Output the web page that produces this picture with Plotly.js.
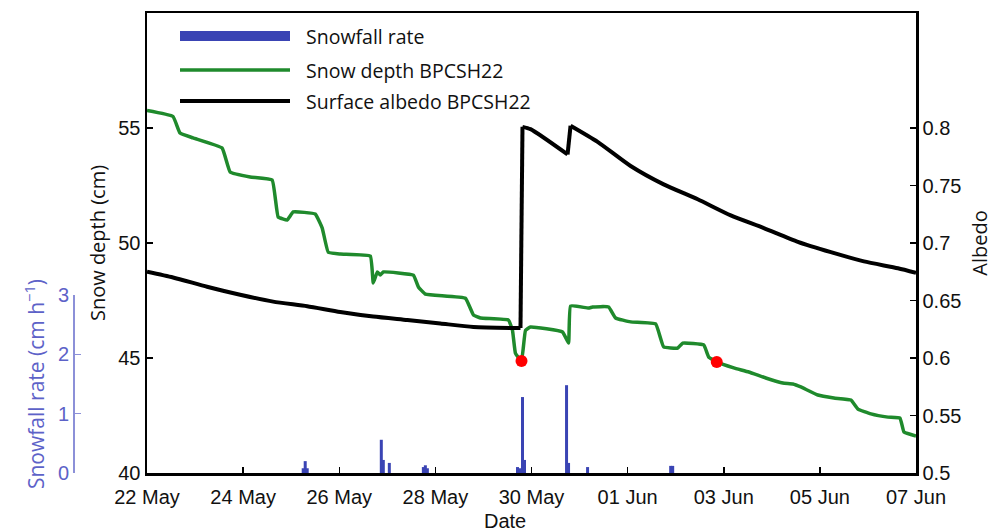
<!DOCTYPE html>
<html><head><meta charset="utf-8">
<script src="https://cdn.plot.ly/plotly-3.0.1.min.js"></script>
<style>body{margin:0;background:#fff}#chart{width:993px;height:531px}</style>
</head><body><div id="chart"></div>
<script>
// Snow depth BPCSH22 (cm)
const depthTime = ["2015-05-22 00:00","2015-05-22 13:00","2015-05-22 16:30","2015-05-22 23:00","2015-05-23 13:30","2015-05-23 17:30","2015-05-24 03:30","2015-05-24 14:30","2015-05-24 17:30","2015-05-24 22:00","2015-05-25 01:00","2015-05-25 12:00","2015-05-25 15:30","2015-05-25 18:30","2015-05-26 00:30","2015-05-26 15:30","2015-05-26 17:00","2015-05-26 19:00","2015-05-26 20:30","2015-05-26 22:00","2015-05-27 13:00","2015-05-27 15:30","2015-05-27 19:00","2015-05-28 15:00","2015-05-28 19:00","2015-05-28 22:30","2015-05-29 12:30","2015-05-29 14:30","2015-05-29 16:00","2015-05-29 19:00","2015-05-29 21:00","2015-05-29 23:30","2015-05-30 15:30","2015-05-30 18:30","2015-05-30 19:30","2015-05-31 04:30","2015-05-31 06:30","2015-05-31 14:30","2015-05-31 18:00","2015-06-01 01:30","2015-06-01 14:00","2015-06-01 18:00","2015-06-02 01:00","2015-06-02 03:30","2015-06-02 14:00","2015-06-02 16:30","2015-06-02 20:30","2015-06-03 05:00","2015-06-03 12:30","2015-06-03 21:00","2015-06-04 05:30","2015-06-04 10:30","2015-06-04 14:30","2015-06-04 23:00","2015-06-05 07:00","2015-06-05 15:30","2015-06-05 19:00","2015-06-06 01:30","2015-06-06 10:00","2015-06-06 16:00","2015-06-06 18:00","2015-06-07 00:00"];
const depthCm = [55.76,55.5,54.78,54.57,54.13,53.09,52.87,52.74,51.13,51.0,51.35,51.26,50.65,49.6,49.52,49.43,48.26,48.74,48.61,48.74,48.6,48.09,47.78,47.6,46.87,46.74,46.65,46.2,45.2,44.87,46.2,46.35,46.13,45.65,47.26,47.17,47.22,47.22,46.74,46.57,46.48,45.48,45.43,45.65,45.57,45.04,44.83,44.57,44.39,44.13,43.91,43.87,43.74,43.39,43.26,43.17,42.78,42.57,42.43,42.39,41.78,41.61];

// Surface albedo BPCSH22
const albedoTime = ["2015-05-22 00:00","2015-05-22 13:00","2015-05-23 06:00","2015-05-23 22:30","2015-05-24 15:00","2015-05-25 08:00","2015-05-26 00:30","2015-05-26 17:00","2015-05-27 10:00","2015-05-28 02:30","2015-05-28 19:00","2015-05-29 18:30","2015-05-29 19:30","2015-05-29 23:30","2015-05-30 18:00","2015-05-30 19:30","2015-05-31 09:00","2015-06-01 01:30","2015-06-01 18:00","2015-06-02 11:00","2015-06-03 03:30","2015-06-03 20:00","2015-06-04 13:00","2015-06-05 05:30","2015-06-05 22:00","2015-06-06 15:00","2015-06-07 00:00"];
const albedo = [0.675,0.670,0.662,0.655,0.649,0.645,0.640,0.636,0.633,0.630,0.627,0.626,0.801,0.799,0.777,0.802,0.788,0.767,0.751,0.738,0.724,0.713,0.701,0.692,0.684,0.678,0.674];

// Snowfall rate (cm h-1)
const snowTime = ["2015-05-25 06:00","2015-05-25 07:00","2015-05-25 08:00","2015-05-26 21:00","2015-05-26 22:00","2015-05-27 01:00","2015-05-27 18:00","2015-05-27 19:00","2015-05-27 20:00","2015-05-29 17:00","2015-05-29 18:00","2015-05-29 19:30","2015-05-29 20:30","2015-05-30 17:30","2015-05-30 18:30","2015-05-31 04:00","2015-06-01 21:30","2015-06-01 22:30"];
const snowRate = [0.08,0.2,0.08,0.56,0.22,0.17,0.1,0.13,0.08,0.1,0.08,1.28,0.22,1.48,0.17,0.1,0.12,0.12];

// Highlighted points
const dotTime = ["2015-05-29 19:00","2015-06-02 20:30"];
const dotDepth = [44.87,44.83];

const xTicks = ["2015-05-22","2015-05-24","2015-05-26","2015-05-28","2015-05-30","2015-06-01","2015-06-03","2015-06-05","2015-06-07"];
const depthTicks = [40,45,50,55];
const albedoTicks = [0.5,0.55,0.6,0.65,0.7,0.75,0.8];
const albedoTickText = ["0.5","0.55","0.6","0.65","0.7","0.75","0.8"];
const snowTicks = [0,1,2,3];

const W = 993, H = 531;
const px = v => v / W, py = v => 1 - v / H;
const L = 147, R = 916, T = 13, B = 473;
const FONT = "Liberation Sans, Arial, sans-serif";
const LFONT = "Open Sans, sans-serif";
const BLUE = "#3a44b4", GREEN = "#1f8a2c", SNOWAX = "#5d62c8";

// split albedo into smooth decay segments at the upward jumps
const albTraces = [];
let start = 0;
const pushSeg = (a, b) => albTraces.push({type:"scatter", mode:"lines", x:albedoTime.slice(a, b), y:albedo.slice(a, b),
  xaxis:"x", yaxis:"y2", line:{color:"#000", width:4, shape:"spline", smoothing:0.6}, showlegend:false});
for (let i = 1; i < albedo.length; i++) {
  if (albedo[i] - albedo[i-1] > 0.02) {
    pushSeg(start, i);
    albTraces.push({type:"scatter", mode:"lines", x:albedoTime.slice(i-1, i+1), y:albedo.slice(i-1, i+1),
      xaxis:"x", yaxis:"y2", line:{color:"#000", width:4}, showlegend:false});
    start = i;
  }
}
pushSeg(start, albedo.length);

const traces = [
  {type:"bar", x:snowTime, y:snowRate, xaxis:"x", yaxis:"y3", width:5400000,
   marker:{color:BLUE, line:{width:0}}, showlegend:false},
  {type:"scatter", mode:"lines", x:depthTime, y:depthCm, xaxis:"x", yaxis:"y",
   line:{color:GREEN, width:3.5, shape:"spline", smoothing:0.3}, showlegend:false},
  ...albTraces,
  {type:"scatter", mode:"markers", x:dotTime, y:dotDepth, xaxis:"x", yaxis:"y",
   marker:{color:"#ff0000", size:12}, showlegend:false}
];

const tickFont = {family:FONT, size:20, color:"#111"};
const titleFont = {family:LFONT, size:20, color:"#111"};
const layout = {
  width:W, height:H, margin:{l:0,r:0,t:0,b:0},
  paper_bgcolor:"#fff", plot_bgcolor:"rgba(0,0,0,0)", showlegend:false,
  xaxis:{type:"date", domain:[px(L),px(R)], range:["2015-05-22 00:00","2015-06-07 00:00"],
    tickvals:xTicks, tickformat:"%d %b", ticks:"inside", ticklen:6, tickwidth:1.5, tickcolor:"#000",
    showline:true, linecolor:"#000", linewidth:2.5, mirror:true, showgrid:false, zeroline:false,
    tickfont:tickFont, anchor:"y", ticklabelstandoff:4},
  yaxis:{domain:[py(B),py(T)], range:[40,60], tickvals:depthTicks, ticks:"inside", ticklen:6,
    tickwidth:1.5, tickcolor:"#000", showline:true, linecolor:"#000", linewidth:2.5,
    showgrid:false, zeroline:false, tickfont:tickFont, anchor:"x",
    title:{text:"Snow depth (cm)", font:titleFont, standoff:8}},
  yaxis2:{overlaying:"y", side:"right", range:[0.5,0.9], tickvals:albedoTicks, ticktext:albedoTickText,
    ticks:"inside", ticklen:6, tickwidth:1.5, tickcolor:"#000", showline:true, linecolor:"#000",
    linewidth:2.5, showgrid:false, zeroline:false, tickfont:tickFont, anchor:"x",
    title:{text:"Albedo", font:titleFont, standoff:16}},
  yaxis3:{domain:[py(B),py(295)], range:[0,3], tickvals:snowTicks, anchor:"free", position:px(73),
    side:"left", ticks:"inside", ticklen:6, tickwidth:1.5, tickcolor:"#8c90d8",
    showline:true, linecolor:"#8c90d8", linewidth:1.5, showgrid:false, zeroline:false,
    tickfont:{family:FONT, size:20, color:SNOWAX},
    title:{text:"Snowfall rate (cm h<sup>\u22121</sup>)", font:{family:LFONT, size:21, color:SNOWAX}, standoff:6}},
  shapes:[
    {type:"rect", xref:"paper", yref:"paper", x0:px(180), x1:px(290), y0:py(41), y1:py(31), fillcolor:BLUE, line:{width:0}},
    {type:"line", xref:"paper", yref:"paper", x0:px(180), x1:px(290), y0:py(70), y1:py(70), line:{color:GREEN, width:3.5}},
    {type:"line", xref:"paper", yref:"paper", x0:px(180), x1:px(290), y0:py(101), y1:py(101), line:{color:"#000", width:4}}
  ],
  annotations:[
    {text:"Snowfall rate", x:px(304), y:py(36)},
    {text:"Snow depth BPCSH22", x:px(304), y:py(70)},
    {text:"Surface albedo BPCSH22", x:px(304), y:py(101)}
  ].map(a => Object.assign({xref:"paper", yref:"paper", xanchor:"left", yanchor:"middle", showarrow:false,
    font:{family:LFONT, size:19.5, color:"#111"}}, a)).concat([
    {text:"Date", xref:"paper", yref:"paper", x:px(505), y:py(521), xanchor:"center", yanchor:"middle",
     showarrow:false, font:{family:FONT, size:20, color:"#111"}}
  ])
};
Plotly.newPlot("chart", traces, layout, {displayModeBar:false, staticPlot:true});
</script></body></html>
